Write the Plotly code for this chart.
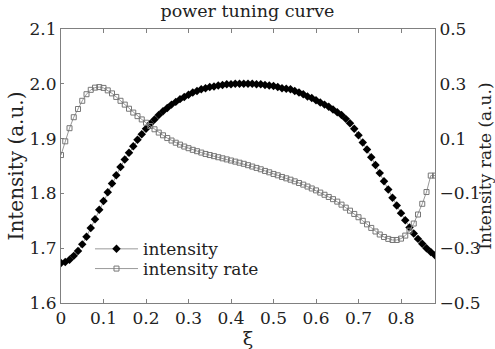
import plotly.graph_objects as go

xi = [round(i * 0.01, 2) for i in range(89)]

intensity = [
    1.673, 1.675, 1.679, 1.686, 1.695, 1.707, 1.721, 1.737, 1.753, 1.770,
    1.786, 1.802, 1.818, 1.833, 1.848, 1.862, 1.874, 1.886, 1.898, 1.908,
    1.918, 1.927, 1.935, 1.943, 1.950, 1.956, 1.962, 1.967, 1.972, 1.976,
    1.980, 1.984, 1.987, 1.990, 1.992, 1.994, 1.995, 1.997, 1.998, 1.999,
    1.999, 2.000, 2.000, 2.000, 2.000, 2.000, 1.999, 1.999, 1.998, 1.997,
    1.996, 1.994, 1.992, 1.991, 1.990, 1.987, 1.984, 1.981, 1.977, 1.974,
    1.970, 1.966, 1.962, 1.958, 1.953, 1.948, 1.943, 1.936, 1.928, 1.918,
    1.906, 1.893, 1.880, 1.866, 1.852, 1.837, 1.822, 1.807, 1.792, 1.778,
    1.764, 1.751, 1.738, 1.727, 1.717, 1.708, 1.700, 1.693, 1.687,
]

rate = [
    0.040, 0.090, 0.138, 0.178, 0.208, 0.238, 0.262, 0.278, 0.286, 0.288,
    0.285, 0.276, 0.265, 0.252, 0.238, 0.224, 0.209, 0.195, 0.182, 0.170,
    0.158, 0.146, 0.134, 0.122, 0.112, 0.102, 0.093, 0.085, 0.078, 0.071,
    0.065, 0.059, 0.054, 0.049, 0.044, 0.040, 0.036, 0.032, 0.028, 0.024,
    0.020, 0.016, 0.012, 0.008, 0.003, -0.002, -0.007, -0.012, -0.018, -0.023,
    -0.029, -0.034, -0.040, -0.045, -0.050, -0.056, -0.062, -0.068, -0.075, -0.082,
    -0.089, -0.097, -0.105, -0.113, -0.121, -0.130, -0.141, -0.152, -0.163, -0.175,
    -0.187, -0.200, -0.213, -0.226, -0.239, -0.250, -0.259, -0.266, -0.270, -0.270,
    -0.265, -0.254, -0.236, -0.210, -0.177, -0.138, -0.095, -0.035, -0.035,
]

left_ticks = [1.6, 1.7, 1.8, 1.9, 2.0, 2.1]
left_labels = ["1.6", "1.7", "1.8", "1.9", "2.0", "2.1"]
right_ticks = [-0.5, -0.3, -0.1, 0.1, 0.3, 0.5]
right_labels = ["\u22120.5", "\u22120.3", "\u22120.1", "0.1", "0.3", "0.5"]
x_ticks = [0, 0.1, 0.2, 0.3, 0.4, 0.5, 0.6, 0.7, 0.8]
x_labels = ["0", "0.1", "0.2", "0.3", "0.4", "0.5", "0.6", "0.7", "0.8"]

FONT = "DejaVu Serif"
AX = "#808080"
TXT = "#222222"

fig = go.Figure()
fig.add_trace(go.Scatter(
    x=xi, y=intensity, name="intensity", mode="lines+markers",
    line=dict(color="#999999", width=1),
    marker=dict(symbol="diamond", size=6.5, color="black"),
    yaxis="y", legend="legend",
))
fig.add_trace(go.Scatter(
    x=xi, y=rate, name="intensity rate", mode="lines+markers",
    line=dict(color="#999999", width=1),
    marker=dict(symbol="square-open", size=5, color="#777777", line=dict(width=1)),
    yaxis="y2", legend="legend2",
))

leg_common = dict(xanchor="left", yanchor="middle", bgcolor="rgba(0,0,0,0)",
                  font=dict(family=FONT, size=17, color=TXT), itemwidth=43,
                  borderwidth=0)

fig.update_layout(
    width=495, height=349,
    margin=dict(l=61, r=60, t=29, b=46),
    paper_bgcolor="white", plot_bgcolor="white",
    font=dict(family=FONT, size=17, color=TXT),
    title=dict(text="power tuning curve", x=0.5, xanchor="center", y=0.985, yanchor="top",
               font=dict(family=FONT, size=17.5, color=TXT)),
    showlegend=True,
    legend=dict(x=0.0775, y=0.196, **leg_common),
    legend2=dict(x=0.0775, y=0.124, **leg_common),
    xaxis=dict(range=[0, 0.88], tickvals=x_ticks, ticktext=x_labels, showgrid=False,
               zeroline=False, showline=True, linecolor=AX, linewidth=1, mirror="ticks",
               ticks="inside", ticklen=4, tickcolor=AX, automargin=False,
               title=dict(text="\u03be", standoff=0, font=dict(family=FONT, size=19))),
    yaxis=dict(range=[1.6, 2.1], tickvals=left_ticks, ticktext=left_labels, showgrid=False,
               zeroline=False, showline=True, linecolor=AX, linewidth=1,
               ticks="inside", ticklen=3, tickcolor=AX, automargin=False,
               title=dict(text="Intensity (a.u.)", standoff=0,
                          font=dict(family=FONT, size=20))),
    yaxis2=dict(range=[-0.5, 0.5], tickvals=right_ticks, ticktext=right_labels,
                overlaying="y", side="right", showgrid=False, zeroline=False,
                showline=True, linecolor=AX, linewidth=1, ticks="", automargin=False,
                title=dict(text="Intensity rate (a.u.)", standoff=2,
                           font=dict(family=FONT, size=17))),
)

fig.write_html("out.html")
